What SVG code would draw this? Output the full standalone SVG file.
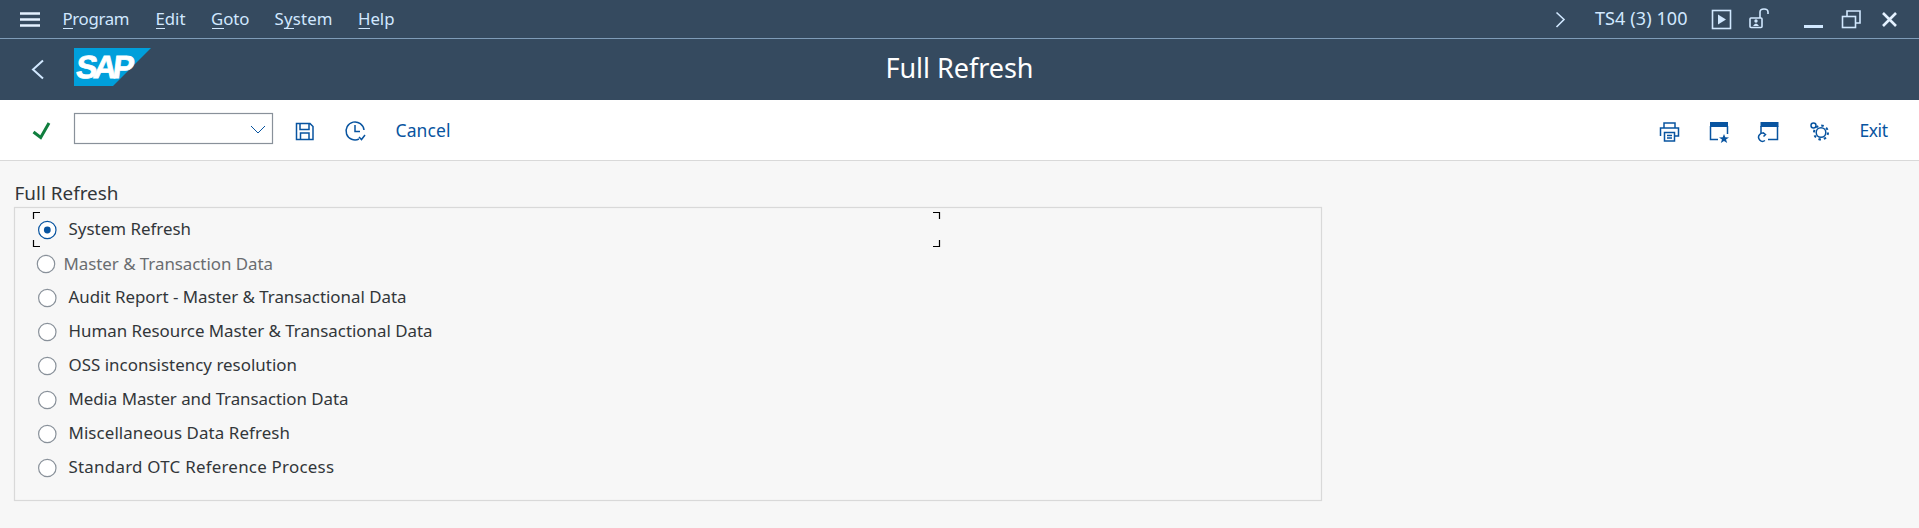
<svg xmlns="http://www.w3.org/2000/svg" width="1919" height="528" viewBox="0 0 1919 528">
<style>
text{font-family:"Noto Sans","Open Sans","Liberation Sans",sans-serif}
.m{font-size:16.800px;fill:#d1e8ff}
.s{font-size:18px;fill:#d1e8ff}
.t{font-size:16.900px;fill:#32363a}
.l{font-size:17.500px;fill:#0854a0}
.u{stroke:#d1e8ff;stroke-width:1;fill:none}
.hd{stroke:#d1e8ff;fill:none;stroke-width:1.600}
.ic{stroke:#0854a0;fill:none;stroke-width:1.500}
.r{fill:#fff;stroke:#89919a;stroke-width:1.200}
.c{stroke:#000;fill:none;stroke-width:1.200}
</style>
<rect width="1919" height="528" fill="#f7f7f7"/>
<g id="header">
<rect width="1919" height="100" fill="#354a5f"/>
<line x1="0" y1="38.500" x2="1919" y2="38.500" stroke="#7f9cb8"/>
</g>
<g id="toolbar-bg">
<rect y="100" width="1919" height="60" fill="#fff"/>
<line x1="0" y1="160.500" x2="1919" y2="160.500" stroke="#d9d9d9" stroke-width="1.200"/>
</g>
<g id="menu">
<path d="M20 13.500H40M20 19.500H40M20 25.500H40" stroke="#e4f1ff" stroke-width="2.600" fill="none"/>
<text class="m" x="62.500" y="25" textLength="67">Program</text><line class="u" x1="63" y1="28.500" x2="73" y2="28.500"/>
<text class="m" x="155.500" y="25" textLength="30">Edit</text><line class="u" x1="156" y1="28.500" x2="165" y2="28.500"/>
<text class="m" x="211" y="25" textLength="38.500">Goto</text><line class="u" x1="212" y1="28.500" x2="224" y2="28.500"/>
<text class="m" x="274.500" y="25" textLength="58">System</text><line class="u" x1="284" y1="28.500" x2="294" y2="28.500"/>
<text class="m" x="358" y="25" textLength="36.500">Help</text><line class="u" x1="358.500" y1="28.500" x2="370" y2="28.500"/>
</g>
<g id="system-info">
<path class="hd" d="M1556.500 12.500L1564 19.500L1556.500 27"/>
<text class="s" x="1595" y="25" textLength="92.500">TS4 (3) 100</text>
<rect class="hd" x="1712.500" y="10.500" width="18" height="18"/>
<path d="M1718 14.500V24.500L1726 19.500Z" fill="#d1e8ff"/>
<rect class="hd" x="1750" y="18" width="12" height="9.500" rx="1"/>
<path class="hd" d="M1760 18V12Q1760 9 1764 9Q1768 9 1768 12V14"/>
<circle cx="1756" cy="21" r="1.700" fill="#d1e8ff"/><path d="M1753 26Q1756 21 1759 26Z" fill="#d1e8ff"/>
<line x1="1804" y1="26.500" x2="1823" y2="26.500" stroke="#d1e8ff" stroke-width="3"/>
<rect class="hd" x="1842.500" y="16.500" width="13" height="11"/>
<path class="hd" d="M1847 16.500V11H1860V23H1855.500"/>
<path d="M1883 13L1896 26M1896 13L1883 26" stroke="#e4f1ff" stroke-width="2.600" fill="none"/>
</g>
<g id="back"><path d="M43 60.500L33 69.500L43 78.500" stroke="#d1e8ff" stroke-width="2" fill="none"/></g>
<g id="logo">
<polygon points="74,48 151,48 113,86 74,86" fill="#009fdb"/>
<text transform="translate(75 78) skewX(-7)" font-size="32" font-weight="700" fill="#fff" stroke="#fff" stroke-width="0.800" letter-spacing="-3.800" style="font-family:'Liberation Sans',sans-serif">SAP</text>
</g>
<g id="title"><text x="959.500" y="78" text-anchor="middle" font-size="27" fill="#fff" textLength="148">Full Refresh</text></g>
<g id="toolbar">
<path d="M33.500 132L40.700 137.500L49 123" stroke="#107e3e" stroke-width="3" fill="none"/>
<rect x="74.500" y="113.500" width="198" height="30" fill="#fff" stroke="#89919a" stroke-width="1.200"/>
<path d="M251 126L258 133L265 126" stroke="#0854a0" stroke-width="1" fill="none"/>
<path class="ic" d="M296.500 123.500H310L313 126.500V139.500H296.500Z M300 123.500V129.500H309V123.500 M300.500 139.500V133H309V139.500"/>
<path class="ic" d="M359 139A9 9 0 1 1 364 130M355 125V131.500H360M359 137L361.500 139.500L365 135"/>
<text class="l" x="395.500" y="137" textLength="55">Cancel</text>
<path class="ic" d="M1664 128V123H1675V128M1660.500 136V128H1678.500V136H1675M1664.500 132.500H1674.500V141H1664.500ZM1667 135.500H1672M1667 138H1672"/>
<rect x="1710" y="122" width="18" height="5" fill="#0854a0"/>
<path class="ic" d="M1710.500 126V139.500H1718M1727.500 126V134"/>
<polygon points="1724,134 1725.300,137.300 1729,137.500 1726,139.600 1727.200,143 1724,141 1720.800,143 1722,139.600 1719,137.500 1722.700,137.300" fill="#0854a0"/>
<rect x="1760.500" y="122" width="18" height="5" fill="#0854a0"/>
<path class="ic" d="M1761 126V133M1777.500 126V139.500H1768"/>
<path class="ic" d="M1765 140.500A4 4 0 1 1 1765 134M1763 132.500L1765.500 134.500L1763.500 136.500"/>
<circle class="ic" cx="1821" cy="132.500" r="4.800" stroke-width="2.200"/>
<circle class="ic" cx="1813.500" cy="125.500" r="2.500"/>
<circle cx="1821" cy="132.500" r="7" fill="none" stroke="#0854a0" stroke-width="2" stroke-dasharray="2.500 3"/>
<text class="l" x="1859.500" y="137" textLength="28.500">Exit</text>
</g>
<g id="field-label"><text x="14.500" y="200" font-size="18.900" fill="#32363a" textLength="104">Full Refresh</text></g>
<g id="panel"><rect x="14.500" y="207.500" width="1307" height="293" fill="none" stroke="#d9d9d9" stroke-width="1.200"/></g>
<g id="focus">
<path class="c" d="M40 212.500H33.500V219M33.500 240V246.500H40M933 212.500H939.500V219M939.500 240V246.500H933"/>
</g>
<g id="opt1"><circle class="r" cx="47.300" cy="230" r="8.700" style="stroke:#0854a0"/><circle cx="47.300" cy="230" r="3.400" fill="#0854a0"/><text class="t" x="68.500" y="235" textLength="122.500">System Refresh</text></g>
<g id="opt2"><circle class="r" cx="46" cy="264" r="8.700"/><text x="63.500" y="269.500" font-size="16.900" fill="#6a6d70" textLength="209.500">Master &amp; Transaction Data</text></g>
<g id="opt3"><circle class="r" cx="47.300" cy="298" r="8.700"/><text class="t" x="68.500" y="303" textLength="338">Audit Report - Master &amp; Transactional Data</text></g>
<g id="opt4"><circle class="r" cx="47.300" cy="332" r="8.700"/><text class="t" x="68.500" y="337" textLength="364">Human Resource Master &amp; Transactional Data</text></g>
<g id="opt5"><circle class="r" cx="47.300" cy="366" r="8.700"/><text class="t" x="68.500" y="371" textLength="228.500">OSS inconsistency resolution</text></g>
<g id="opt6"><circle class="r" cx="47.300" cy="400" r="8.700"/><text class="t" x="68.500" y="405" textLength="280">Media Master and Transaction Data</text></g>
<g id="opt7"><circle class="r" cx="47.300" cy="434" r="8.700"/><text class="t" x="68.500" y="439" textLength="221.500">Miscellaneous Data Refresh</text></g>
<g id="opt8"><circle class="r" cx="47.300" cy="468" r="8.700"/><text class="t" x="68.500" y="473" textLength="265.500">Standard OTC Reference Process</text></g>
<g id="connectors"/>
</svg>
